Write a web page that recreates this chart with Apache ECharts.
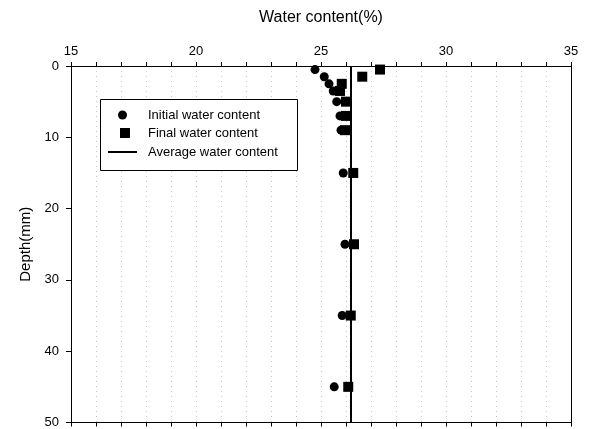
<!DOCTYPE html>
<html>
<head>
<meta charset="utf-8">
<script src="https://cdn.jsdelivr.net/npm/echarts@6/dist/echarts.min.js"></script>
<style>html,body{margin:0;padding:0;background:#fff;}#c{width:589px;height:429px;}</style>
</head>
<body>
<div id="c"></div>
<script>
const depths = [0.5, 1.5, 2.5, 3.5, 5, 7, 9, 15, 25, 35, 45];
const initialWater = [24.76, 25.13, 25.32, 25.49, 25.63, 25.76, 25.8, 25.89, 25.96, 25.85, 25.53];
const finalWater = [27.36, 26.65, 25.83, 25.76, 26.0, 26.0, 25.96, 26.29, 26.32, 26.19, 26.09];
const averageWater = 26.2;
const depthRange = [0, 50];
const seriesNames = ['Initial water content', 'Final water content', 'Average water content'];

const font = 'Liberation Sans, Arial, sans-serif';
const legendText = (padLeft) => ({fontSize: 13, fontFamily: font, color: '#000', lineHeight: 16, padding: [0, 0, 0, padLeft]});
const legendBase = {orient: 'vertical', padding: 0, selectedMode: false, z: 10};

const chart = echarts.init(document.getElementById('c'), null, {renderer: 'canvas'});
chart.setOption({
  animation: false,
  backgroundColor: '#fff',
  textStyle: {fontFamily: font, color: '#000'},
  grid: {left: 71, right: 18, top: 66, bottom: 6, show: false},
  graphic: [{
    type: 'rect', left: 100, top: 99, z: 9,
    shape: {width: 197, height: 71},
    style: {fill: '#fff', stroke: '#000', lineWidth: 1}
  }],
  legend: [
    Object.assign({}, legendBase, {left: 118, top: 107, itemWidth: 9, itemHeight: 9, textStyle: legendText(16),
      data: [{name: seriesNames[0], icon: 'circle'}]}),
    Object.assign({}, legendBase, {left: 120, top: 125, itemWidth: 10, itemHeight: 10, textStyle: legendText(13),
      data: [{name: seriesNames[1], icon: 'rect'}]}),
    Object.assign({}, legendBase, {left: 108, top: 144, itemWidth: 29, itemHeight: 2, textStyle: legendText(6),
      data: [{name: seriesNames[2], icon: 'rect'}]})
  ],
  xAxis: [{
    type: 'value', position: 'top', min: 15, max: 35, interval: 1,
    name: 'Water content(%)', nameLocation: 'middle', nameGap: 40,
    nameTextStyle: {fontSize: 16, color: '#000', fontFamily: font},
    axisLine: {show: true, onZero: false, lineStyle: {color: '#000', width: 1}},
    axisTick: {show: true, inside: false, length: 4, lineStyle: {color: '#000'}},
    axisLabel: {fontSize: 13, color: '#000', margin: 8, formatter: v => (v % 5 === 0 ? String(v) : '')},
    splitLine: {show: true, lineStyle: {color: '#c8c8c8', type: [1, 4], width: 1}}
  }, {
    type: 'value', position: 'bottom', min: 15, max: 35, interval: 1,
    axisLine: {show: true, onZero: false, lineStyle: {color: '#000', width: 1}},
    axisTick: {show: true, inside: false, length: 4, lineStyle: {color: '#000'}},
    axisLabel: {show: false},
    splitLine: {show: false}
  }],
  yAxis: [{
    type: 'value', inverse: true, min: depthRange[0], max: depthRange[1], interval: 10,
    position: 'left',
    name: 'Depth(mm)', nameLocation: 'middle', nameGap: 34,
    nameTextStyle: {fontSize: 15, color: '#000', fontFamily: font},
    axisLine: {show: true, onZero: false, lineStyle: {color: '#000', width: 1}},
    axisTick: {show: true, inside: false, length: 5, lineStyle: {color: '#000'}},
    axisLabel: {fontSize: 13, color: '#000', margin: 12},
    splitLine: {show: false}
  }, {
    type: 'value', inverse: true, min: depthRange[0], max: depthRange[1], interval: 10,
    position: 'right',
    axisLine: {show: true, onZero: false, lineStyle: {color: '#000', width: 1}},
    axisTick: {show: false},
    axisLabel: {show: false},
    splitLine: {show: false}
  }],
  series: [{
    name: seriesNames[0], type: 'scatter', xAxisIndex: 0, yAxisIndex: 0,
    symbol: 'circle', symbolSize: 9,
    itemStyle: {color: '#000', opacity: 1},
    data: depths.map((d, i) => [initialWater[i], d]), z: 3
  }, {
    name: seriesNames[1], type: 'scatter', xAxisIndex: 0, yAxisIndex: 0,
    symbol: 'rect', symbolSize: 10,
    itemStyle: {color: '#000', opacity: 1},
    data: depths.map((d, i) => [finalWater[i], d]), z: 3
  }, {
    name: seriesNames[2], type: 'line', xAxisIndex: 0, yAxisIndex: 0,
    symbol: 'none', showSymbol: false,
    lineStyle: {color: '#000', width: 2}, itemStyle: {color: '#000'},
    data: [[averageWater, depthRange[0]], [averageWater, depthRange[1]]], z: 2
  }]
});
</script>
</body>
</html>
